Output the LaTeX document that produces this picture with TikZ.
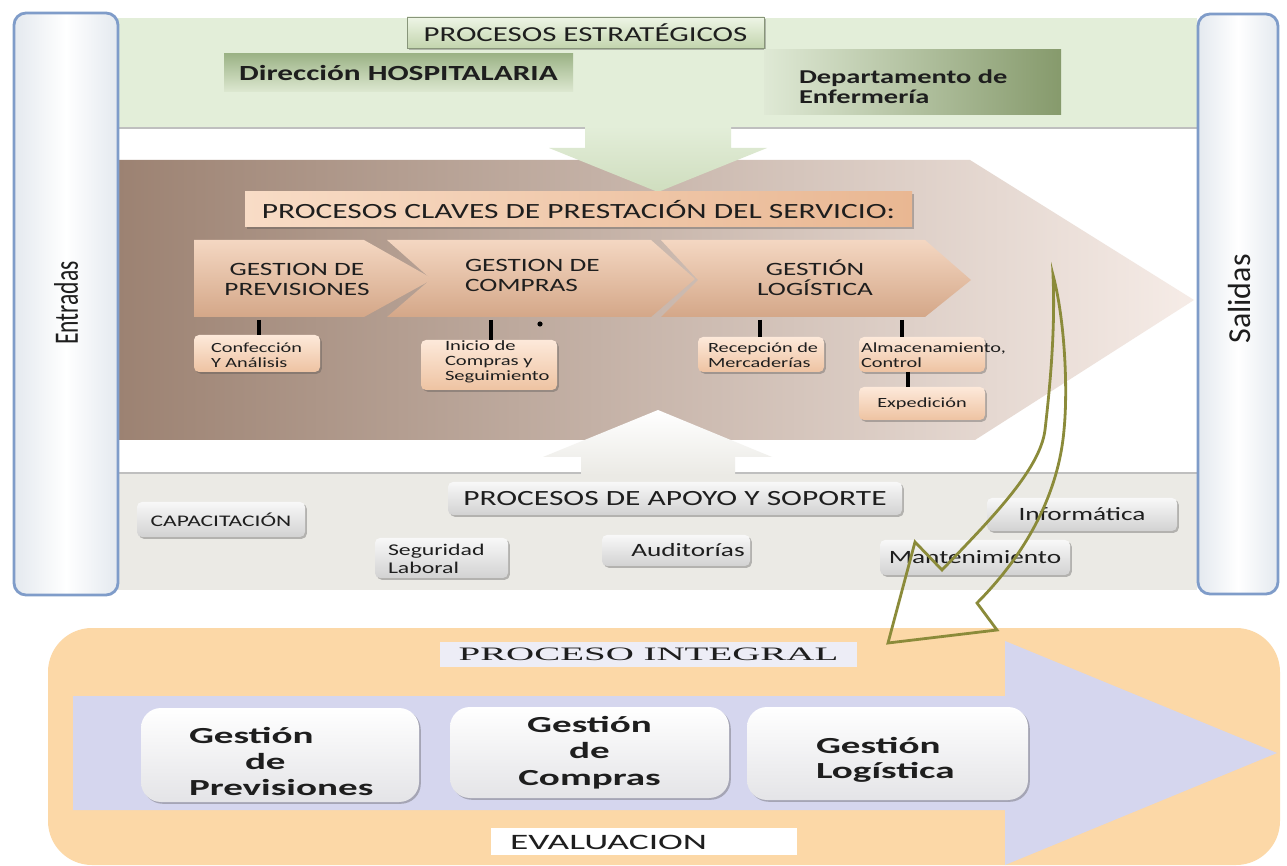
\documentclass[tikz,border=0pt]{standalone}
\usepackage{fontspec}
\setmainfont{Carlito}
\newfontfamily\ft{Carlito}[FakeStretch=1.45]
\newfontfamily\fbot{Carlito}[FakeStretch=1.7]
\newfontfamily\fser{Liberation Serif}[FakeStretch=2.05]
\newfontfamily\frot{Carlito}
\usetikzlibrary{shadows}
\definecolor{sideblue}{HTML}{7F9CC9}
\definecolor{sidegray}{HTML}{E4E9EF}
\definecolor{greenband}{HTML}{E3EED9}
\definecolor{grayband}{HTML}{EBEAE5}
\definecolor{txt}{HTML}{1E1E1E}
\definecolor{brownL}{HTML}{9C8272}
\definecolor{brownR}{HTML}{F6ECE7}
\definecolor{keyL}{HTML}{F8DCC6}
\definecolor{keyR}{HTML}{E9B792}
\definecolor{chL}{HTML}{F4D7C2}
\definecolor{chD}{HTML}{D4A788}
\definecolor{sbL}{HTML}{FDE9DA}
\definecolor{sbD}{HTML}{EEC3A2}
\definecolor{stL}{HTML}{EEF5E6}
\definecolor{stD}{HTML}{C3D5AE}
\definecolor{dirT}{HTML}{9CB386}
\definecolor{dirB}{HTML}{DDE8D1}
\definecolor{depL}{HTML}{DFE9D5}
\definecolor{depR}{HTML}{869A6C}
\definecolor{grT}{HTML}{F8F8F8}
\definecolor{grB}{HTML}{D2D2D2}
\definecolor{orangebg}{HTML}{FCD8A7}
\definecolor{lav}{HTML}{D5D6EE}
\definecolor{lavwhite}{HTML}{EDEDF6}
\definecolor{boxgray}{HTML}{E4E4E7}
\definecolor{olivec}{HTML}{8B8B3A}
\begin{document}
\begin{tikzpicture}[x=0.5pt,y=-0.5pt,
  every node/.style={inner sep=0pt, outer sep=0pt, text=txt},
  wh/.style 2 args={minimum width={#1*0.5pt}, minimum height={#2*0.5pt}},
  fa/.style 2 args={font=\ft\fontsize{#1}{#2}\selectfont},
  fab/.style 2 args={font=\ft\bfseries\fontsize{#1}{#2}\selectfont},
  sh/.style={drop shadow={shadow xshift=0.9pt, shadow yshift=-0.9pt, opacity=0.35, fill=black!70}},
  sidebar/.style={draw=sideblue, line width=1.4pt, rounded corners=6pt, left color=sidegray, right color=sidegray, middle color=white},
  stratbox/.style={top color=stL, bottom color=stD, draw=stD!70!black, line width=0.3pt, sh},
  keybox/.style={left color=keyL, right color=keyR, sh},
  chev/.style={top color=chL, bottom color=chD},
  subbox/.style={rounded corners=2.5pt, top color=sbL, bottom color=sbD, sh},
  graybox/.style={rounded corners=2.5pt, top color=grT, bottom color=grB, sh},
  tick/.style={line width=1.6pt, black},
  wbox/.style={rounded corners=10pt, top color=white, bottom color=boxgray, sh},
  olivearrow/.style={draw=olivec, line width=1.4pt, line join=miter}
]
\useasboundingbox (0,0) rectangle (1287,866);
\fill[white] (0,0) rectangle (1287,866);

% bands
\fill[greenband] (118,18) rectangle (1197,128);
\fill[white] (118,128) rectangle (1197,160);
\draw[black!25, line width=0.8pt] (118,128) -- (1197,128);
\fill[grayband] (118,473) rectangle (1197,590);
\draw[black!25, line width=0.8pt] (118,473) -- (1197,473);

% big key process arrow
\path[left color=brownL, right color=brownR] (118,160) -- (970,160) -- (1194,300) -- (975,440) -- (118,440) -- cycle;

% strategic -> key arrow
\path[top color=greenband, bottom color=stD!80!white] (585,126) -- (731,126) -- (731,148) -- (767,148) -- (658,192) -- (549,148) -- (585,148) -- cycle;
% support -> key arrow
\path[top color=white, bottom color=grayband] (581,475) -- (581,457) -- (543,457) -- (658,410) -- (772,457) -- (735,457) -- (735,475) -- cycle;

% strategic processes
\node[stratbox, wh={357}{31}, fa={10.65}{12}] (estr) at (585.5,32.5) {PROCESOS ESTRATÉGICOS};
\node[top color=dirT, bottom color=dirB, wh={349}{38}, fab={10.8}{12}] (dir) at (398.5,73) {Dirección HOSPITALARIA};
\node[left color=depL, right color=depR, wh={297}{65}] (depbox) at (912.5,82.5) {};
\node[anchor=west, align=left, fab={9.8}{10}] (dep) at (799,87) {Departamento de\\Enfermería};

% key processes
\node[keybox, wh={667}{35}, fa={10.85}{12}] (key) at (578.5,209.5) {PROCESOS CLAVES DE PRESTACIÓN DEL SERVICIO:};

\path[chev] (194,240) -- (364,240) -- (433,279) -- (364,317) -- (194,317) -- cycle;
\path[chev] (387,240) -- (651,240) -- (695,279) -- (651,317) -- (387,317) -- (431,279) -- cycle;
\path[chev] (661,240) -- (925,240) -- (971,280) -- (925,317) -- (661,317) -- (698,280) -- cycle;
\node[align=center, fa={9.4}{10}] (g1) at (297,279) {GESTION DE\\PREVISIONES};
\node[anchor=west, align=left, fa={9.4}{10}] (g2) at (465,275) {GESTION DE\\COMPRAS};
\node[align=center, fa={9.4}{10}] (g3) at (815,278) {GESTIÓN\\LOGÍSTICA};

\node[subbox, wh={126}{37}] (conf) at (257,353.5) {};
\node[anchor=west, align=left, fa={7}{7.5}] (conft) at (211,355) {Confección\\Y Análisis};
\node[subbox, wh={136}{50}] (ini) at (489,365) {};
\node[anchor=west, align=left, fa={7.1}{7.5}] (init) at (445,362) {Inicio de\\Compras y\\Seguimiento};
\node[subbox, wh={126}{35}] (rec) at (761,354.5) {};
\node[anchor=west, align=left, fa={7}{7.5}] (rect) at (708,355) {Recepción de\\Mercaderías};
\node[subbox, wh={126}{35}] (alm) at (922,354.5) {};
\node[anchor=west, align=left, fa={7}{7.5}] (almt) at (861,355) {Almacenamiento,\\Control};
\node[subbox, wh={126}{33}, fa={7}{7.5}] (exp) at (922,403.5) {Expedición};

\coordinate (t1) at (259,320);
\draw[tick] (t1) -- (t1 |- conf.north);
\coordinate (t2) at (491,320);
\draw[tick] (t2) -- (t2 |- ini.north);
\node[circle, fill=black, minimum size=2.6pt] (dot) at (540,324) {};
\coordinate (t3) at (760,320);
\draw[tick] (t3) -- (t3 |- rec.north);
\coordinate (t4) at (902,320);
\draw[tick] (t4) -- (t4 |- alm.north);
\coordinate (t5) at (908,380);
\draw[tick] (t5 |- alm.south) -- (t5 |- exp.north);

% support processes
\node[graybox, wh={454}{33}, fa={10.85}{12}] (apoyo) at (675,498.5) {PROCESOS DE APOYO Y SOPORTE};
\node[graybox, wh={168}{35}, fa={8.1}{9}] (cap) at (221,519.5) {CAPACITACIÓN};
\node[graybox, wh={133}{40}] (seg) at (441.5,558) {};
\node[anchor=west, align=left, fa={8.2}{9}] (segt) at (388,559) {Seguridad\\Laboral};
\node[graybox, wh={148}{31}] (aud) at (676,550.5) {};
\node[fa={9.4}{10}] (audt) at (688,550) {Auditorías};
\node[graybox, wh={190}{33}, fa={9.4}{10}] (inf) at (1082,514.5) {Informática};
\node[graybox, wh={190}{35}, fa={9.4}{10}] (man) at (975,557.5) {Mantenimiento};

% side bars
\node[sidebar, wh={104}{582}] (entr) at (66,304) {};
\node[rotate=90, font=\frot] (entrt) at (66,303) {\scalebox{1}[1.45]{\fontsize{11.8}{12}\selectfont Entradas}};
\node[sidebar, wh={80}{580}] (sal) at (1238,304) {};
\node[rotate=90, font=\frot] (salt) at (1240,299) {\fontsize{16}{16}\selectfont Salidas};

% integral process
\fill[orangebg, rounded corners=22pt] (48,628) rectangle (1280,865);
\fill[lav] (73,696) -- (1005,696) -- (1005,641) -- (1277,753) -- (1005,865) -- (1005,810) -- (73,810) -- cycle;
\node[fill=lavwhite, wh={417}{25}, font=\fser\fontsize{9.5}{10}\selectfont] (intg) at (648.5,654.5) {PROCESO INTEGRAL};
\node[fill=white, wh={306}{27}] (evalbox) at (644,841.5) {};
\node[anchor=west, font=\fbot\fontsize{11}{12}\selectfont] (evalt) at (510,842) {EVALUACION};

\node[wbox, wh={278}{94}] (b1) at (280,755) {};
\node[anchor=west, align=left, font=\fbot\bfseries\fontsize{11.5}{13}\selectfont] (b1t) at (189,761) {Gestión\\\hspace{28pt}de\\Previsiones};
\node[wbox, wh={279}{91}, align=center, font=\fbot\bfseries\fontsize{11.5}{13.3}\selectfont] (b2) at (589.5,752.5) {Gestión\\de\\Compras};
\node[wbox, wh={281}{93}] (b3) at (887.5,753.5) {};
\node[anchor=west, align=left, font=\fbot\bfseries\fontsize{11.5}{12.5}\selectfont] (b3t) at (816,760) {Gestión\\Logística};

% olive curved arrow
\draw[olivearrow] (1053,275) .. controls (1065,320) and (1068,390) .. (1064,430)
  .. controls (1058,500) and (1020,560) .. (977,603) -- (997,630) -- (888,643)
  -- (915,542) -- (942,570) .. controls (990,520) and (1040,470) .. (1045,430)
  .. controls (1052,370) and (1055,320) .. (1053,275) -- cycle;
\end{tikzpicture}
\end{document}
